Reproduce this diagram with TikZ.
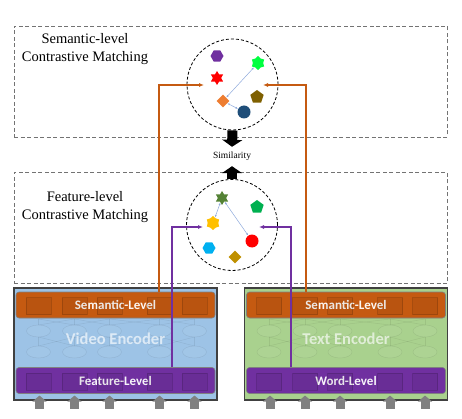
\documentclass[tikz,border=0pt]{standalone}
\usepackage{fontspec}
\setmainfont{Liberation Serif}
\newfontfamily\encfont{Carlito}
\usetikzlibrary{shapes.geometric,arrows.meta}

\definecolor{semorange}{HTML}{C55A11}
\definecolor{featpurple}{HTML}{7030A0}
\definecolor{vidblue}{HTML}{9DC3E6}
\definecolor{txtgreen}{HTML}{A9D18E}
\definecolor{linkblue}{HTML}{8FAADC}
\definecolor{inputgray}{HTML}{808080}

\tikzset{
  zone/.style={draw=black!55, dash pattern=on 4pt off 2.5pt, line width=0.7pt,
    minimum width=433pt, minimum height=111pt},
  zonetext/.style={align=center, font=\fontsize{14.5}{18}\selectfont},
  space/.style={circle, draw, dash pattern=on 3pt off 2pt, line width=0.8pt,
    minimum size=91pt, inner sep=0pt},
  hexa/.style={regular polygon, regular polygon sides=6, minimum size=13pt, inner sep=0pt},
  penta/.style={regular polygon, regular polygon sides=5, minimum size=14pt, inner sep=0pt},
  sixstar/.style={star, star points=6, star point ratio=1.7, minimum size=14pt, inner sep=0pt},
  gem/.style={diamond, minimum size=13pt, inner sep=0pt},
  ball/.style={circle, minimum size=13pt, inner sep=0pt},
  link/.style={linkblue, line width=0.5pt,
    {Latex[length=2.5pt,width=2pt]}-{Latex[length=2.5pt,width=2pt]}},
  flow/.style={-{Triangle[width=20pt,length=7pt]}, line width=10pt},
  encbox/.style={draw=black!75, line width=1.2pt, minimum width=203pt, minimum height=112pt},
  enclabel/.style={text=white, text opacity=0.65, font=\encfont\bfseries\fontsize{16.5}{18}\selectfont},
  levelbar/.style={draw=black!50, line width=0.6pt, rounded corners=3pt, minimum width=199pt,
    minimum height=26pt, text=white, text opacity=0.95, font=\encfont\bfseries\fontsize{13}{15}\selectfont},
  token/.style={draw=black, draw opacity=0.15, fill=black, fill opacity=0.06,
    minimum width=25pt, minimum height=17pt},
  net/.style={black, draw opacity=0.07, line width=0.5pt},
  semlink/.style={semorange, line width=1.4pt, -{Latex[length=5pt,width=4pt]}},
  featlink/.style={featpurple, line width=1.4pt, -{Latex[length=5pt,width=4pt]}},
  input/.style={inputgray, line width=9pt, -{Triangle[width=14pt,length=6pt]}}
}

\begin{document}
\begin{tikzpicture}[x=1pt,y=-1pt]
  \useasboundingbox (0,0) rectangle (462,419);

  % contrastive matching zones
  \node[zone] (semzone) at (230.5,81.5) {};
  \node[zone] (featzone) at (230.5,228) {};
  \node[zonetext] (semtitle) at (85,49) {Semantic-level\\Contrastive Matching};
  \node[zonetext] (feattitle) at (85,207) {Feature-level\\Contrastive Matching};
  \node[space] (semspace) at (232.5,84.5) {};
  \node[space] (featspace) at (232,225) {};

  % semantic-level embeddings
  \node[hexa, fill=featpurple] (shex) at (217,56) {};
  \node[sixstar, fill=red] (sstar) at (217,78) {};
  \node[sixstar, star point ratio=1.35, fill={rgb,255:red,0;green,255;blue,64}] (gstar) at (258,63) {};
  \node[penta, fill={rgb,255:red,127;green,96;blue,0}] (spenta) at (257,97) {};
  \node[gem, fill={rgb,255:red,237;green,125;blue,49}] (sgem) at (223,101) {};
  \node[ball, fill={rgb,255:red,31;green,78;blue,121}] (sball) at (244,112) {};
  \draw[link] (gstar) -- (sgem);
  \draw[link] (sgem) -- (sball);

  % feature-level embeddings
  \node[sixstar, fill={rgb,255:red,84;green,130;blue,53}] (fstar) at (222,198) {};
  \node[penta, fill={rgb,255:red,0;green,176;blue,80}] (fpenta) at (257,207) {};
  \node[sixstar, star point ratio=1.3, fill={rgb,255:red,255;green,192;blue,0}] (ystar) at (213,223) {};
  \node[ball, fill=red] (fball) at (252,241) {};
  \node[hexa, fill={rgb,255:red,0;green,176;blue,240}] (fhex) at (209,248) {};
  \node[gem, fill={rgb,255:red,191;green,144;blue,0}] (fgem) at (235,257) {};
  \draw[link] (fstar) -- (ystar);
  \draw[link] (fstar) -- (fball);

  % similarity
  \node[minimum height=19pt, inner sep=0pt, font=\fontsize{9.5}{11}\selectfont] (sim) at (232,156.5) {Similarity};
  \draw[flow] (semspace.south) -- (sim.north);
  \draw[flow] (featspace.north) -- (sim.south);

  % encoders
  \node[encbox, fill=vidblue] (videnc) at (115.5,344) {};
  \node[encbox, fill=txtgreen] (txtenc) at (346,344) {};
  \foreach \e in {videnc,txtenc} {
    \foreach \a/\b in {-77/-41,-41/-6,-6/44,44/79,-41/-77,-6/-41,44/-6,79/44,-77/-77,-41/-41,-6/-6,44/44,79/79} {
      \draw[net] ([xshift=\a pt,yshift=7pt]\e.center) -- ([xshift=\b pt,yshift=-2pt]\e.center);
      \draw[net] ([xshift=\a pt,yshift=25pt]\e.center) -- ([xshift=\b pt,yshift=19pt]\e.center);
    }
    \foreach \a in {-77,-41,-6,44,79} {
      \draw[net, fill=white, fill opacity=0.05] ([xshift=\a pt,yshift=13pt]\e.center) ellipse (12pt and 6pt);
      \draw[net, fill=white, fill opacity=0.05] ([xshift=\a pt,yshift=-8pt]\e.center) ellipse (12pt and 6pt);
    }
  }
  \node[enclabel] (vidlabel) at (115.5,339) {Video Encoder};
  \node[enclabel] (txtlabel) at (346,339) {Text Encoder};

  \node[levelbar, fill=semorange] (vidsem) at (115.5,305) {Semantic-Level};
  \node[levelbar, fill=featpurple] (vidfeat) at (115.5,380.5) {Feature-Level};
  \node[levelbar, fill=semorange] (txtsem) at (346,305) {Semantic-Level};
  \node[levelbar, fill=featpurple] (txtfeat) at (346,380.5) {Word-Level};
  \foreach \bar in {vidsem,vidfeat,txtsem,txtfeat}
    \foreach \a in {-77,-41,-6,44,79}
      \node[token] at ([xshift=\a pt,yshift=-1pt]\bar.center) {};

  % links to the matching spaces
  \coordinate (semL) at (204,85);
  \coordinate (semR) at (263,85);
  \coordinate (featL) at (203,227);
  \coordinate (featR) at (259,227);
  \draw[semlink] ([xshift=43.5pt]vidsem.north) |- (semL);
  \draw[semlink] ([xshift=-40pt]txtsem.north) |- (semR);
  \draw[featlink] ([xshift=56.5pt]vidfeat.north) |- (featL);
  \draw[featlink] ([xshift=-55pt]txtfeat.north) |- (featR);

  % inputs
  \foreach \e in {videnc,txtenc}
    \foreach \a in {-76,-41,-6,44,79}
      \draw[input] ([xshift=\a pt,yshift=-8pt]\e.south) -- ([xshift=\a pt,yshift=5pt]\e.south);
\end{tikzpicture}
\end{document}
